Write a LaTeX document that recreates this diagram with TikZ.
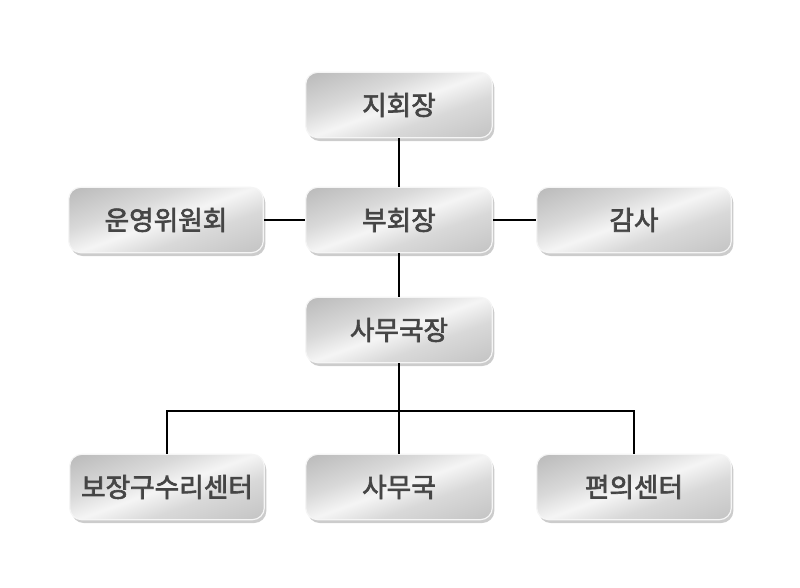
\documentclass[tikz,border=0pt]{standalone}
\usepackage{fontspec}
\newfontfamily\kr[FakeBold=2.4]{Noto Sans CJK KR}
\usepackage{tikz}
\usetikzlibrary{shadows,positioning,calc}

\definecolor{txtgray}{HTML}{454545}
% brushed metal look of the boxes
\pgfdeclarehorizontalshading{metal}{100bp}{
    color(0bp)=(gray!62); color(20bp)=(gray!52); color(38bp)=(gray!30);
    color(50bp)=(gray!8); color(62bp)=(gray!30); color(80bp)=(gray!45);
    color(100bp)=(gray!42)}
\tikzset{
    orgbox/.style={rounded corners=9pt, minimum width=140pt, minimum height=49pt,
        draw=gray!8, line width=0.9pt,
        shading=metal, shading angle=-70,
        drop shadow={shadow xshift=1.5pt, shadow yshift=-2.5pt, opacity=0.5, fill=gray!80},
        font=\kr\fontsize{20}{22}\selectfont, text=txtgray},
    widebox/.style={orgbox, minimum width=146pt},
    link/.style={line width=1.6pt, black}
}

\begin{document}
\begin{tikzpicture}[x=0.75pt,y=-0.75pt]
    \useasboundingbox (0,0) rectangle (800,587);

    % top of the chart
    \node[orgbox] (chief) at (399,105) {지회장};
    \node[orgbox] (vice) at (399,220) {부회장};
    \node[widebox] (board) at (166,220) {운영위원회};
    \node[widebox] (audit) at (634,220) {감사};
    \node[orgbox] (secgen) at (399,330) {사무국장};

    % bottom row
    \node[widebox] (repair) at (167,487) {보장구수리센터};
    \node[orgbox] (office) at (399,487) {사무국};
    \node[widebox] (conv) at (634,487) {편의센터};

    % connectors
    \draw[link] (chief) -- (vice);
    \draw[link] (vice) -- (secgen);
    \draw[link] (board) -- (vice);
    \draw[link] (vice) -- (audit);

    \coordinate (split) at (399,411);
    \draw[link] (secgen) -- (office);
    \draw[link] (repair.north) -- (repair.north |- split) -- (conv.north |- split) -- (conv.north);

\end{tikzpicture}
\end{document}
